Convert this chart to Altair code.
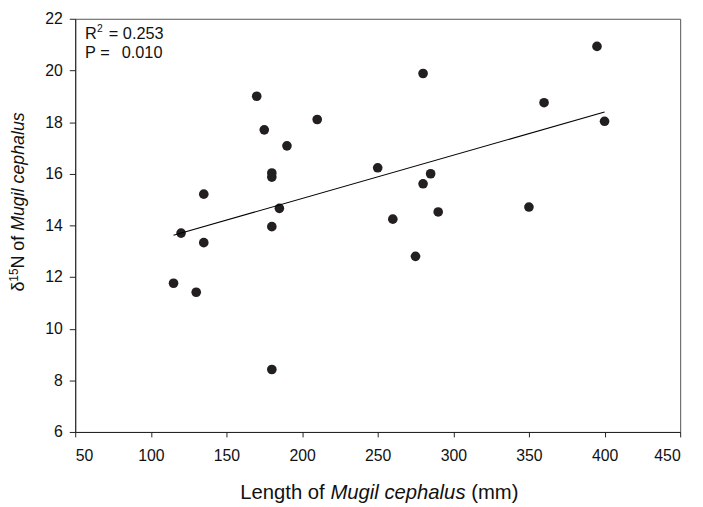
import altair as alt
import pandas as pd

# Data
length_mm = [115, 120, 130, 135, 135, 170, 175, 180, 180, 180, 180, 185, 190,
             210, 250, 260, 275, 280, 280, 285, 290, 350, 360, 395, 400]
d15n = [11.76, 13.70, 11.41, 15.21, 13.33, 19.00, 17.70, 16.03, 15.87, 13.95,
        8.42, 14.66, 17.08, 18.10, 16.23, 14.24, 12.80, 19.88, 15.61, 16.00,
        14.52, 14.71, 18.75, 20.93, 18.03]
x_ticks = [50, 100, 150, 200, 250, 300, 350, 400, 450]
y_ticks = [6, 8, 10, 12, 14, 16, 18, 20, 22]
fit_extent = [115, 400]

df = pd.DataFrame({"length": length_mm, "d15n": d15n})

W, H = 612, 418
TOP = 16  # screen y of plot top
LEFT = 76  # screen x of plot left
FONT = "Liberation Sans"
INK = "#231f20"

xenc = alt.X("length:Q",
             scale=alt.Scale(domain=[50, 450], nice=False, zero=False),
             axis=alt.Axis(values=x_ticks, title=None, grid=False, tickSize=5,
                           labelPadding=11, labelFontSize=16, format="d"))
yenc = alt.Y("d15n:Q",
             scale=alt.Scale(domain=[6, 22], nice=False, zero=False),
             axis=alt.Axis(values=y_ticks, title=None, grid=False, tickSize=6,
                           labelPadding=7, labelFontSize=16, format="d"))

base = alt.Chart(df)
points = base.mark_circle(size=95, color=INK, opacity=1).encode(x=xenc, y=yenc)
fit = base.transform_regression("length", "d15n", extent=fit_extent).mark_line(
    color="black", strokeWidth=1.1).encode(x=xenc, y=yenc)


def label(text, sx, sy, size, italic=False, angle=0, align="left"):
    """Place a text by its screen position (sx, sy)."""
    kw = dict(text=text, font=FONT, fontSize=size, color="#111", align=align,
              baseline="alphabetic")
    if italic:
        kw["fontStyle"] = "italic"
    if angle:
        kw["angle"] = angle
    return alt.Chart(pd.DataFrame({"t": [text]})).mark_text(**kw).encode(
        x=alt.value(sx - LEFT), y=alt.value(sy - TOP))


texts = []
# x title
xs = 20.5
x0 = 243.0
texts.append(label("Length of", x0, 502, xs))
x1 = x0 + 4.448 * xs
texts.append(label("Mugil cephalus", x1, 502, xs, italic=True))
x2 = x1 + 6.669 * xs + 0.278 * xs
texts.append(label("(mm)", x2, 502, xs))

# y title (rotated, reading bottom to top)
ys = 18
yb = 292.0
bx = 24
texts.append(label("δ", bx, yb, ys, angle=270))
y1 = yb - 0.56 * ys
texts.append(label("15", bx - 6, y1, 12, angle=270))
y2 = y1 - 1.112 * 12
texts.append(label("N of", bx, y2, ys, angle=270))
y3 = y2 - 2.112 * ys
texts.append(label("Mugil cephalus", bx, y3, ys, italic=True, angle=270))

# statistics annotation
ts = 16.5
texts.append(label("R", 86, 36, ts))
texts.append(label("2", 98, 29, 10.5))
texts.append(label("= 0.253", 110, 36, ts))
texts.append(label("P =", 86, 56, ts))
texts.append(label("0.010", 123, 56, ts))

chart = alt.layer(points, fit, *texts).properties(
    width=W, height=H,
    autosize=alt.AutoSizeParams(type="none"),
    padding={"left": LEFT - 8, "top": TOP - 8, "right": 15, "bottom": 73},
).configure_view(stroke="#555", strokeWidth=1).configure_axis(
    labelFont=FONT, labelColor="#111", labelFontSize=16,
    domainColor="#222", tickColor="#222", domainWidth=1, tickWidth=1,
)

chart.save("out.html", embed_options={"renderer": "svg", "actions": False})
